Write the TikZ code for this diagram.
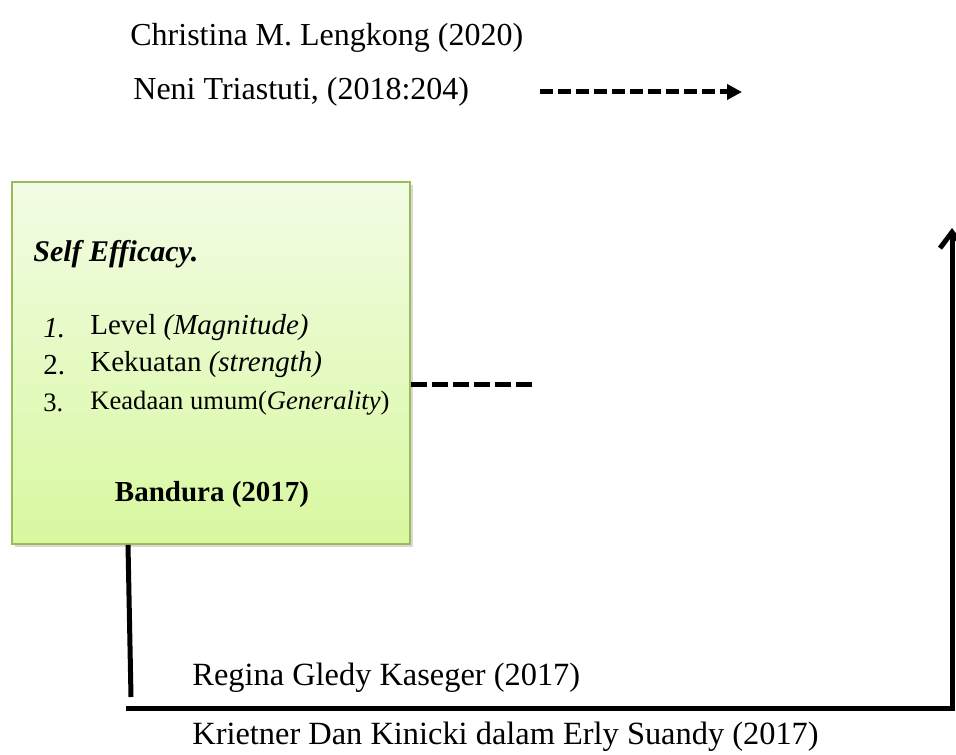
\documentclass[tikz,border=0pt]{standalone}
\usepackage{fontspec}
\setmainfont{Liberation Serif}
\usepackage{tikz}
\usetikzlibrary{arrows.meta, positioning, calc, shadows}
\definecolor{boxgreen}{RGB}{155,187,89}
\definecolor{boxtop}{RGB}{242,252,228}
\definecolor{boxbottom}{RGB}{216,248,160}

\begin{document}
\begin{tikzpicture}[x=0.5pt,y=-0.5pt,
    cite/.style={anchor=west, inner sep=0pt, font=\fontsize{16}{18}\selectfont},
    item/.style={anchor=west, inner sep=0pt, font=\fontsize{14.5}{17}\selectfont},
    dashline/.style={line width=2.5pt, dash pattern=on 8pt off 2.5pt},
    solidline/.style={line width=2.5pt}]
    \useasboundingbox (0,0) rectangle (956,754);

    % Sources at the top
    \node[cite] (christina) at (130,38) {Christina M. Lengkong (2020)};
    \node[cite] (neni) at (133,92) {Neni Triastuti, (2018:204)};
    \coordinate (nenistart) at (540,92);
    \coordinate (neniend) at (742,92);
    \draw[dashline, dash pattern=on 6.5pt off 2.5pt, -{Triangle[length=7.5pt,width=7.5pt]}] (nenistart) -- (neniend);

    % Self efficacy box
    \node[draw=boxgreen, line width=0.8pt, top color=boxtop, bottom color=boxbottom,
          drop shadow={opacity=0.3, shadow xshift=1.5pt, shadow yshift=-1.5pt},
          minimum width=199pt, minimum height=181pt, inner sep=0pt] (efficacy) at (211,363) {};
    \node[item, font=\fontsize{15}{17}\selectfont\bfseries\itshape] (title) at (33,254) {Self Efficacy.};
    \node[item] (num1) at (43,328) {\itshape 1.};
    \node[item] (level) at (90,328) {Level \textit{(Magnitude)}};
    \node[item] (num2) at (43,365) {2.};
    \node[item] (strength) at (90,365) {Kekuatan \textit{(strength)}};
    \node[item, font=\fontsize{13.3}{16}\selectfont] (num3) at (43,403) {3.};
    \node[item, font=\fontsize{13.3}{16}\selectfont] (general) at (90,403) {Keadaan umum(\textit{Generality})};
    \node[inner sep=0pt, font=\fontsize{14.5}{17}\selectfont\bfseries] (bandura) at (212,495) {Bandura (2017)};

    % Dashed line out of the box
    \coordinate (dashend) at (535,384);
    \draw[dashline] (efficacy.east |- dashend) -- (dashend);

    % Line down from the box
    \coordinate (downstart) at (128,547);
    \coordinate (downend) at (131,697);
    \draw[solidline] (efficacy.south -| downstart) -- (downend);

    % Bottom line and arrow up on the right
    \coordinate (bottomleft) at (126,708);
    \coordinate (bottomright) at (952,708);
    \coordinate (arrowtop) at (952,228);
    \draw[solidline, -{Straight Barb[length=8pt,width=12pt]}] (bottomleft) -- (bottomright) -- (arrowtop);

    % Sources at the bottom
    \node[cite, font=\fontsize{16.2}{18}\selectfont] (regina) at (192,678) {Regina Gledy Kaseger (2017)};
    \node[cite, font=\fontsize{16.2}{18}\selectfont] (krietner) at (192,737) {Krietner Dan Kinicki dalam Erly Suandy (2017)};
\end{tikzpicture}
\end{document}
